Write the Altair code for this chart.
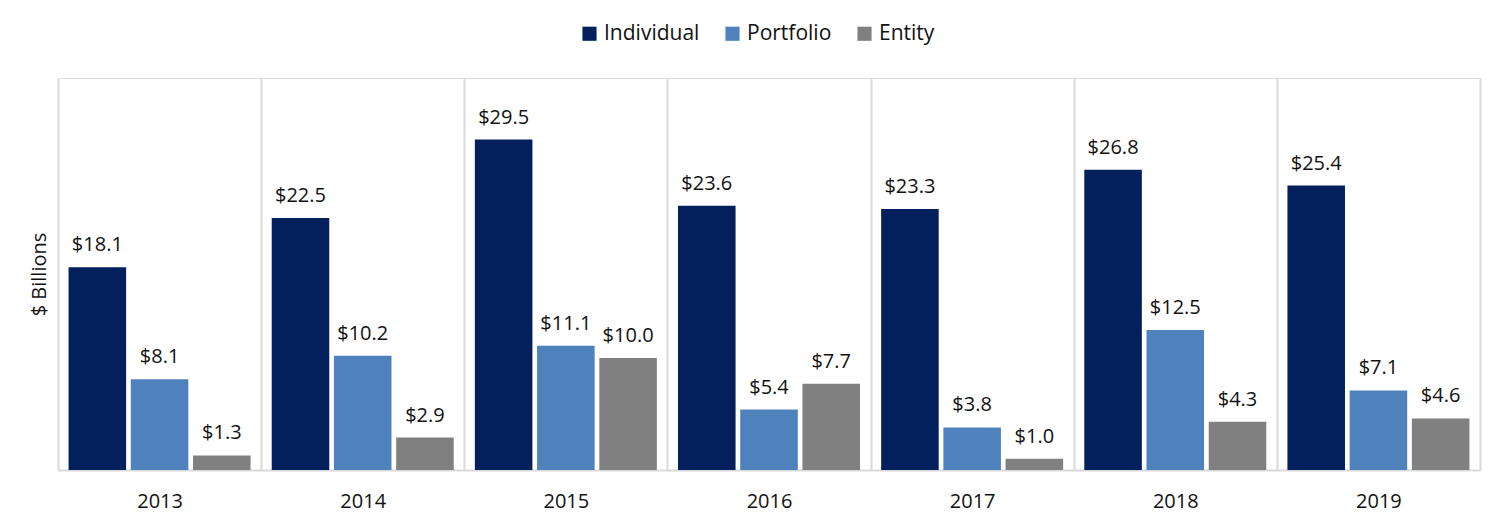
import altair as alt
import pandas as pd

years = ["2013", "2014", "2015", "2016", "2017", "2018", "2019"]
series = ["Individual", "Portfolio", "Entity"]
individual = [18.1, 22.5, 29.5, 23.6, 23.3, 26.8, 25.4]
portfolio = [8.1, 10.2, 11.1, 5.4, 3.8, 12.5, 7.1]
entity = [1.3, 2.9, 10.0, 7.7, 1.0, 4.3, 4.6]
colors = ["#03205C", "#4F81BD", "#808080"]

rows = []
for name, vals in zip(series, [individual, portfolio, entity]):
    for y, v in zip(years, vals):
        rows.append({"Year": y, "Type": name, "Value": v})
df = pd.DataFrame(rows)

FONT = "Open Sans"
TXT = "#111111"

x = alt.X("Year:N", sort=years, title=None,
          scale=alt.Scale(paddingInner=0, paddingOuter=0),
          axis=alt.Axis(labelAngle=0, labelFontSize=20, labelColor=TXT,
                        labelPadding=21, ticks=False, grid=True, tickBand="extent",
                        gridColor="#D9D9D9", gridWidth=2, domainColor="#D9D9D9",
                        domainWidth=2, labelFont=FONT))
xoff = alt.XOffset("Type:N", sort=series,
                   scale=alt.Scale(paddingInner=0.075, paddingOuter=0.17))
y = alt.Y("Value:Q", scale=alt.Scale(domain=[0, 35]),
          axis=alt.Axis(title="$ Billions", labels=False, ticks=False, domain=False,
                        grid=False, titleFontSize=20, titleFontWeight="normal",
                        titleColor=TXT, titlePadding=9, titleFont=FONT))
color = alt.Color("Type:N", sort=series,
                  scale=alt.Scale(domain=series, range=colors),
                  legend=alt.Legend(title=None, orient="none", direction="horizontal",
                                    legendX=521, legendY=-55,
                                    symbolType="square", symbolSize=200,
                                    symbolStrokeWidth=0, labelFontSize=21,
                                    labelFont=FONT, labelColor=TXT,
                                    columnPadding=22))

base = alt.Chart(df)
bars = base.mark_bar().encode(x=x, xOffset=xoff, y=y, color=color)
labels = base.mark_text(baseline="bottom", dy=-12, fontSize=20, font=FONT,
                        color=TXT).encode(
    x=x, xOffset=xoff, y=y, text=alt.Text("Value:Q", format="$.1f"))

chart = (bars + labels).properties(
    width=1422, height=392,
    padding={"left": 21, "right": 15, "top": 15, "bottom": 5},
).configure_view(stroke=None).configure(font=FONT)

chart.save("out.html", embed_options={"renderer": "svg", "actions": False})
